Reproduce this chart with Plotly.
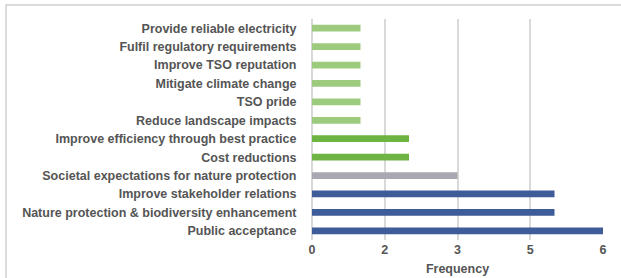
import plotly.graph_objects as go

categories = [
    "Provide reliable electricity",
    "Fulfil regulatory requirements",
    "Improve TSO reputation",
    "Mitigate climate change",
    "TSO pride",
    "Reduce landscape impacts",
    "Improve efficiency through best practice",
    "Cost reductions",
    "Societal expectations for nature protection",
    "Improve stakeholder relations",
    "Nature protection & biodiversity enhancement",
    "Public acceptance",
]
values = [1, 1, 1, 1, 1, 1, 2, 2, 3, 5, 5, 6]
bar_colors = ["#9dcb7e"] * 6 + ["#6db443"] * 2 + ["#a9a8b2"] + ["#3e5c98"] * 3
tick_vals = [0, 1.5, 3, 4.5, 6]
tick_text = ["0", "2", "3", "5", "6"]

W, H = 621, 278
L, R, T, B = 312, 18, 19, 38
pw, ph = W - L - R, H - T - B
FONT = "Liberation Sans, Arial, sans-serif"

fig = go.Figure(go.Bar(
    x=values, y=categories, orientation="h",
    marker=dict(color=bar_colors, line=dict(width=0)),
    width=0.37,
))

def px_x(p):
    return (p - L) / pw

def px_y(p):
    return (H - B - p) / ph

fig.add_shape(type="rect", xref="paper", yref="paper",
              x0=px_x(6), x1=px_x(640), y0=px_y(300), y1=px_y(5),
              line=dict(color="#cfcfcf", width=1.5), layer="below")

fig.update_layout(
    width=W, height=H,
    margin=dict(l=L, r=R, t=T, b=B),
    paper_bgcolor="white", plot_bgcolor="white",
    showlegend=False,
    font=dict(family=FONT, size=12.5, color="#555555"),
)
fig.update_xaxes(
    range=[0, 6], tickvals=tick_vals, ticktext=tick_text,
    showgrid=True, gridcolor="#d9d9d9", gridwidth=1.5,
    zeroline=True, zerolinecolor="#d9d9d9", zerolinewidth=1.5,
    tickfont=dict(family=FONT, size=12.5, color="#555555", weight="bold"),
    title=dict(text="<b>Frequency</b>", standoff=8,
               font=dict(family=FONT, size=12.5, color="#555555")),
    automargin=False,
    fixedrange=True,
)
fig.update_yaxes(
    autorange="reversed",
    showgrid=False,
    ticks="outside", ticklen=12, tickcolor="rgba(0,0,0,0)",
    tickfont=dict(family=FONT, size=12.5, color="#555555", weight="bold"),
    automargin=False,
    fixedrange=True,
)

fig.write_html("out.html", config={"displayModeBar": False},
               post_script="document.body.style.margin='0';document.body.style.padding='0';")
